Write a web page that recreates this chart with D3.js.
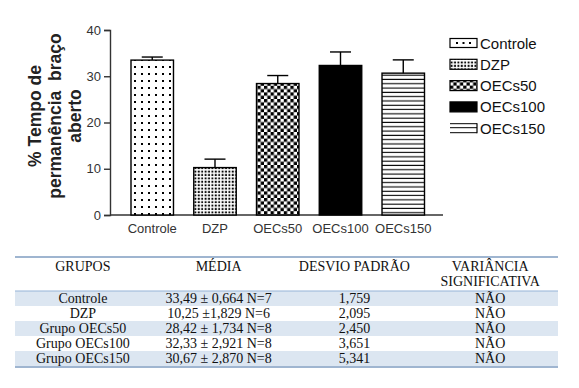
<!DOCTYPE html>
<html>
<head>
<meta charset="utf-8">
<script src="https://cdnjs.cloudflare.com/ajax/libs/d3/7.8.5/d3.min.js"></script>
<style>
  html, body { margin: 0; padding: 0; background: #fff; }
  svg { display: block; }
</style>
</head>
<body>
<svg id="chart" width="579" height="388"></svg>
<script>
// ---- data ----
const categories = ["Controle", "DZP", "OECs50", "OECs100", "OECs150"];
const means = [33.49, 10.25, 28.42, 32.33, 30.67];
const sems = [0.664, 1.829, 1.734, 2.921, 2.870];
const yTicks = [0, 10, 20, 30, 40];
const yLabelLines = ["% Tempo de", "permanência  braço", "aberto"];

const tableHeaders = [["GRUPOS"], ["MÉDIA"], ["DESVIO PADRÃO"], ["VARIÂNCIA", "SIGNIFICATIVA"]];
const tableGroups = ["Controle", "DZP", "Grupo OECs50", "Grupo OECs100", "Grupo OECs150"];
const tableMeans = ["33,49 ± 0,664 N=7", "10,25 ±1,829 N=6", "28,42 ± 1,734 N=8", "32,33 ± 2,921 N=8", "30,67 ± 2,870 N=8"];
const tableSD = ["1,759", "2,095", "2,450", "3,651", "5,341"];
const tableSig = ["NÃO", "NÃO", "NÃO", "NÃO", "NÃO"];
const patterns = ["pDots", "pDense", "pChecker", "solid", "pLines"];

const svg = d3.select("#chart");
const defs = svg.append("defs");

// patterns
const pd = defs.append("pattern").attr("id", "pDots").attr("patternUnits", "userSpaceOnUse")
  .attr("width", 7).attr("height", 7).attr("x", 131).attr("y", 0);
pd.append("rect").attr("width", 7).attr("height", 7).attr("fill", "#fff");
pd.append("rect").attr("x", 3).attr("y", 3).attr("width", 2).attr("height", 2).attr("fill", "#000");

const pdn = defs.append("pattern").attr("id", "pDense").attr("patternUnits", "userSpaceOnUse")
  .attr("width", 3.4).attr("height", 3.4);
pdn.append("rect").attr("width", 3.4).attr("height", 3.4).attr("fill", "#fff");
pdn.append("rect").attr("x", 0.6).attr("y", 0.6).attr("width", 1.9).attr("height", 1.9).attr("fill", "#000");

const pc = defs.append("pattern").attr("id", "pChecker").attr("patternUnits", "userSpaceOnUse")
  .attr("width", 6.6).attr("height", 6.6);
pc.append("rect").attr("width", 6.6).attr("height", 6.6).attr("fill", "#fff");
pc.append("rect").attr("width", 3.3).attr("height", 3.3).attr("fill", "#000");
pc.append("rect").attr("x", 3.3).attr("y", 3.3).attr("width", 3.3).attr("height", 3.3).attr("fill", "#000");

const pl = defs.append("pattern").attr("id", "pLines").attr("patternUnits", "userSpaceOnUse")
  .attr("width", 8).attr("height", 4.3);
pl.append("rect").attr("width", 8).attr("height", 4.3).attr("fill", "#fff");
pl.append("rect").attr("y", 1.5).attr("width", 8).attr("height", 1.1).attr("fill", "#000");

const fillFor = i => patterns[i] === "solid" ? "#000" : `url(#${patterns[i]})`;

// scales
const y = d3.scaleLinear().domain([0, 40]).range([215, 30]);
const x = d3.scaleBand().domain(categories).range([131, 424.5]).paddingInner(0.323).paddingOuter(0);

// axes
const axisColor = "#333";
const yAxis = svg.append("g").attr("transform", "translate(110,0)")
  .call(d3.axisLeft(y).tickValues(yTicks).tickSize(6).tickPadding(3).tickFormat(d3.format("d")));
yAxis.select(".domain").attr("stroke", axisColor).attr("stroke-width", 1.4);
yAxis.selectAll(".tick line").attr("stroke", axisColor).attr("stroke-width", 1.4);
yAxis.selectAll(".tick text").attr("fill", "#333").attr("font-family", "Liberation Sans, Arial, sans-serif")
  .attr("font-size", 13);

svg.append("line").attr("x1", 110).attr("x2", 443).attr("y1", y(0)).attr("y2", y(0))
  .attr("stroke", axisColor).attr("stroke-width", 1.4);

// bars
svg.append("g").selectAll("rect").data(categories).join("rect")
  .attr("x", d => x(d)).attr("width", x.bandwidth())
  .attr("y", (d, i) => y(means[i])).attr("height", (d, i) => y(0) - y(means[i]))
  .attr("fill", (d, i) => fillFor(i)).attr("stroke", "#000").attr("stroke-width", 1.4);

// error bars
const eb = svg.append("g").attr("stroke", "#000").attr("stroke-width", 1.4);
categories.forEach((c, i) => {
  const cx = x(c) + x.bandwidth() / 2;
  eb.append("line").attr("x1", cx).attr("x2", cx).attr("y1", y(means[i])).attr("y2", y(means[i] + sems[i]));
  eb.append("line").attr("x1", cx - 10.5).attr("x2", cx + 10.5).attr("y1", y(means[i] + sems[i])).attr("y2", y(means[i] + sems[i]));
});

// x labels
svg.append("g").selectAll("text").data(categories).join("text")
  .attr("x", d => x(d) + x.bandwidth() / 2).attr("y", 233)
  .attr("text-anchor", "middle").attr("font-family", "Liberation Sans, Arial, sans-serif")
  .attr("font-size", 13).attr("fill", "#333").text(d => d);

// y label
const yl = svg.append("g").attr("transform", "translate(55,116) rotate(-90)");
yl.selectAll("text").data(yLabelLines).join("text")
  .attr("x", 0).attr("y", (d, i) => (i - 1) * 20 + 6)
  .attr("text-anchor", "middle").attr("font-family", "Liberation Sans, Arial, sans-serif")
  .attr("font-weight", "bold").attr("font-size", 17.5).attr("fill", "#222")
  .attr("xml:space", "preserve").style("white-space", "pre").text(d => d);

// legend
const leg = svg.append("g");
categories.forEach((c, i) => {
  const cy = 43 + i * 21.3;
  const g = leg.append("g").attr("transform", `translate(450,${cy})`);
  if (patterns[i] === "pLines") {
    g.append("rect").attr("x", 0).attr("y", -5).attr("width", 27).attr("height", 10).attr("fill", "#fff");
    [-4.5, -0.5, 4.5].forEach(ly => g.append("line").attr("x1", 0).attr("x2", 27).attr("y1", ly).attr("y2", ly)
      .attr("stroke", "#000").attr("stroke-width", 1));
    g.append("line").attr("x1", 27).attr("x2", 27).attr("y1", -5).attr("y2", 5).attr("stroke", "#000").attr("stroke-width", 1.2);
  } else if (patterns[i] === "pDots") {
    g.append("rect").attr("x", 0).attr("y", -4.5).attr("width", 27).attr("height", 9)
      .attr("fill", "#fff").attr("stroke", "#000").attr("stroke-width", 1.2);
    [7, 13.5, 20].forEach(dx => g.append("rect").attr("x", dx - 1).attr("y", -1).attr("width", 2).attr("height", 2).attr("fill", "#000"));
  } else {
    g.append("rect").attr("x", 0).attr("y", -5).attr("width", 27).attr("height", 10)
      .attr("fill", fillFor(i)).attr("stroke", "#000").attr("stroke-width", 1.2);
  }
  g.append("text").attr("x", 30).attr("y", 5.5).attr("font-family", "Liberation Sans, Arial, sans-serif")
    .attr("font-size", 15).attr("fill", "#111").text(c);
});

// table
const tLeft = 15, tRight = 558;
const colW = (tRight - tLeft) / 4;
const colX = [0, 1, 2, 3].map(k => tLeft + colW * (k + 0.5));
const rowTop = 291, rowH = 15;
const tbl = svg.append("g").attr("font-family", "Liberation Serif, Times New Roman, serif")
  .attr("font-size", 14).attr("fill", "#111");

tableGroups.forEach((g, r) => {
  if (r % 2 === 0) {
    tbl.append("rect").attr("x", tLeft).attr("y", rowTop + r * rowH).attr("width", tRight - tLeft)
      .attr("height", rowH).attr("fill", "#dce6f1");
  }
});
tbl.append("line").attr("x1", tLeft).attr("x2", tRight).attr("y1", 257).attr("y2", 257)
  .attr("stroke", "#7f9cc0").attr("stroke-width", 1.6);
tbl.append("line").attr("x1", tLeft).attr("x2", tRight).attr("y1", rowTop).attr("y2", rowTop)
  .attr("stroke", "#95b3d7").attr("stroke-width", 1);
tbl.append("line").attr("x1", tLeft).attr("x2", tRight).attr("y1", rowTop + 5 * rowH + 1).attr("y2", rowTop + 5 * rowH + 1)
  .attr("stroke", "#7f9cc0").attr("stroke-width", 1.6);

tableHeaders.forEach((lines, k) => {
  lines.forEach((t, j) => {
    tbl.append("text").attr("x", colX[k]).attr("y", 271 + j * 15).attr("text-anchor", "middle").text(t);
  });
});
const cols = [tableGroups, tableMeans, tableSD, tableSig];
cols.forEach((arr, k) => {
  arr.forEach((t, r) => {
    tbl.append("text").attr("x", colX[k]).attr("y", rowTop + r * rowH + 12).attr("text-anchor", "middle").text(t);
  });
});
</script>
</body>
</html>
